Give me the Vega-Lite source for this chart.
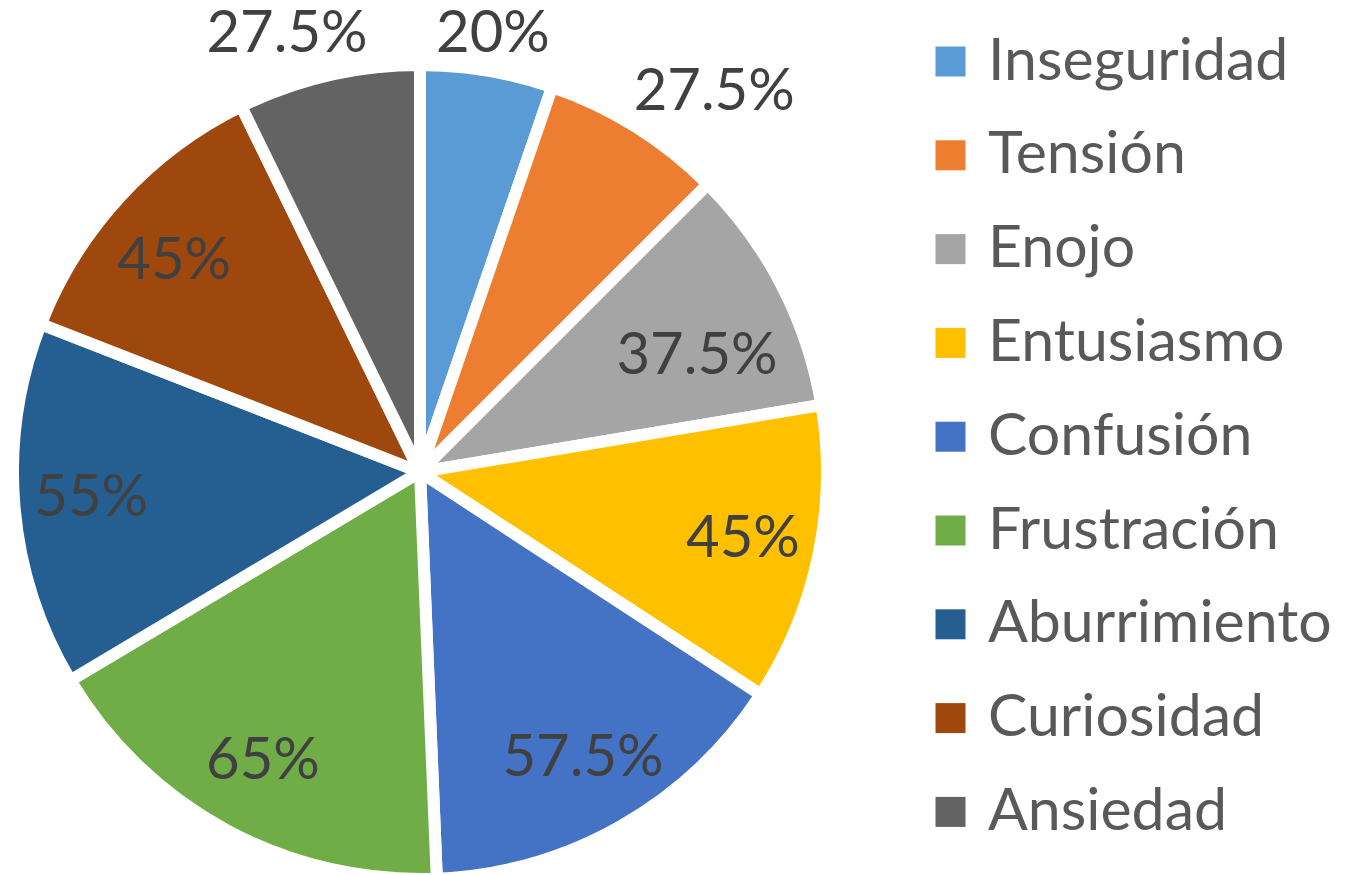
{
  "$schema": "https://vega.github.io/schema/vega-lite/v6.json",
  "width": 840,
  "height": 944,
  "autosize": {"type": "none"},
  "padding": {"left": 0, "top": 0, "right": 521, "bottom": 0},
  "background": "white",
  "config": {"view": {"stroke": null}, "font": "Lato"},
  "data": {
    "values": [
      {"cat": "Inseguridad", "order": 1, "value": 20, "label": "20%"},
      {"cat": "Tensión", "order": 2, "value": 27.5, "label": "27.5%"},
      {"cat": "Enojo", "order": 3, "value": 37.5, "label": "37.5%"},
      {"cat": "Entusiasmo", "order": 4, "value": 45, "label": "45%"},
      {"cat": "Confusión", "order": 5, "value": 57.5, "label": "57.5%"},
      {"cat": "Frustración", "order": 6, "value": 65, "label": "65%"},
      {"cat": "Aburrimiento", "order": 7, "value": 55, "label": "55%"},
      {"cat": "Curiosidad", "order": 8, "value": 45, "label": "45%"},
      {"cat": "Ansiedad", "order": 9, "value": 27.5, "label": "27.5%"}
    ]
  },
  "encoding": {
    "theta": {"field": "value", "type": "quantitative", "stack": true},
    "order": {"field": "order", "type": "quantitative"},
    "color": {
      "field": "cat",
      "type": "nominal",
      "sort": ["Inseguridad", "Tensión", "Enojo", "Entusiasmo", "Confusión", "Frustración", "Aburrimiento", "Curiosidad", "Ansiedad"],
      "scale": {
        "domain": ["Inseguridad", "Tensión", "Enojo", "Entusiasmo", "Confusión", "Frustración", "Aburrimiento", "Curiosidad", "Ansiedad"],
        "range": ["#5B9BD5", "#ED7D31", "#A5A5A5", "#FFC000", "#4472C4", "#70AD47", "#255E91", "#9E480E", "#636363"]
      },
      "legend": {
        "title": null,
        "orient": "none",
        "legendX": 921,
        "legendY": 32,
        "symbolType": "square",
        "symbolSize": 900,
        "symbolStrokeWidth": 0,
        "labelFontSize": 59,
        "labelFont": "Lato",
        "labelColor": "#595959",
        "labelOffset": 8,
        "rowPadding": 33.8,
        "labelLimit": 500
      }
    }
  },
  "layer": [
    {
      "mark": {"type": "arc", "outerRadius": 407, "stroke": "white", "strokeWidth": 12}
    },
    {
      "mark": {"type": "text", "fontSize": 58, "font": "Lato", "baseline": "middle", "align": "center", "radius": 330},
      "encoding": {
        "text": {
          "condition": {"test": "indexof(['Inseguridad','Tensión','Ansiedad','Enojo','Curiosidad'], datum.cat) >= 0", "value": ""},
          "field": "label", "type": "nominal"
        },
        "color": {"value": "#404040"}
      }
    },
    {
      "mark": {"type": "text", "fontSize": 58, "font": "Lato", "baseline": "middle", "align": "center", "radius": 330, "dx": -3, "dy": 14},
      "encoding": {
        "text": {
          "condition": {"test": "datum.cat !== 'Curiosidad'", "value": ""},
          "field": "label", "type": "nominal"
        },
        "color": {"value": "#404040"}
      }
    },
    {
      "mark": {"type": "text", "fontSize": 58, "font": "Lato", "baseline": "middle", "align": "center", "radius": 325, "dx": -12, "dy": 34},
      "encoding": {
        "text": {
          "condition": {"test": "datum.cat !== 'Enojo'", "value": ""},
          "field": "label", "type": "nominal"
        },
        "color": {"value": "#404040"}
      }
    },
    {
      "mark": {"type": "text", "fontSize": 58, "font": "Lato", "baseline": "middle", "align": "center", "radius": 443},
      "encoding": {
        "text": {
          "condition": {"test": "datum.cat !== 'Inseguridad'", "value": ""},
          "field": "label", "type": "nominal"
        },
        "color": {"value": "#404040"}
      }
    },
    {
      "mark": {"type": "text", "fontSize": 58, "font": "Lato", "baseline": "middle", "align": "center", "radius": 480, "dx": 40, "dy": 28},
      "encoding": {
        "text": {
          "condition": {"test": "datum.cat !== 'Tensión'", "value": ""},
          "field": "label", "type": "nominal"
        },
        "color": {"value": "#404040"}
      }
    },
    {
      "mark": {"type": "text", "fontSize": 58, "font": "Lato", "baseline": "middle", "align": "center", "radius": 457, "dx": -30, "dy": 8},
      "encoding": {
        "text": {
          "condition": {"test": "datum.cat !== 'Ansiedad'", "value": ""},
          "field": "label", "type": "nominal"
        },
        "color": {"value": "#404040"}
      }
    }
  ]
}
